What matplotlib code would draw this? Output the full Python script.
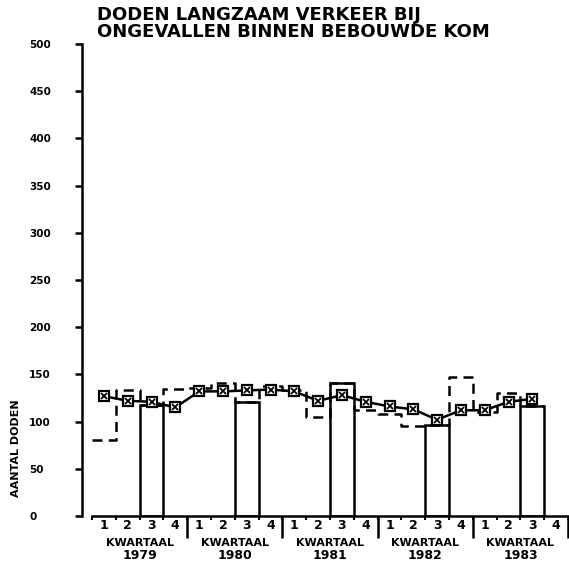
#%% IMPORTS
import numpy as np
import matplotlib
matplotlib.use('Agg')
import matplotlib.pyplot as plt

#%% DATA
years = ['1979', '1980', '1981', '1982', '1983']
quarter_labels = ['1', '2', '3', '4']
# deaths per quarter (last quarter of 1983 not available)
deaths_quarter = [80, 133, 118, 135,
                  136, 141, 121, 138,
                  133, 105, 141, 112,
                  108, 95, 96, 147,
                  110, 130, 117, np.nan]
# smoothed line (boxes with a cross)
deaths_smooth = [127, 122, 121, 115,
                 132, 132, 133, 134,
                 132, 122, 128, 121,
                 116, 113, 102, 112,
                 112, 121, 124, np.nan]
y_ticks = [0, 50, 100, 150, 200, 250, 300, 350, 400, 450, 500]

title_lines = ['DODEN LANGZAAM VERKEER BIJ',
               'ONGEVALLEN BINNEN BEBOUWDE KOM']
y_label = 'AANTAL DODEN'
x_group_label = 'KWARTAAL'

#%% PLOT
plt.rcParams['font.family'] = ['DejaVu Sans']
plt.rcParams['font.weight'] = 'bold'

W = 569.0
fig = plt.figure(figsize=(5.69, 5.69), dpi=100)
ax = fig.add_axes([82 / W, 53 / W, 487 / W, 472 / W])

n_q = len(deaths_quarter)
px_per_q = 476.0 / 20
ax.set_xlim(-10 / px_per_q, 477 / px_per_q)
ax.set_ylim(0, 500)

lw = 1.8
q_vals = np.array(deaths_quarter, dtype=float)
edges = np.arange(n_q + 1)
centers = np.arange(n_q) + 0.5

# dashed step line for all quarters
ax.step(edges, np.append(q_vals, q_vals[-1]), where='post', color='black',
        lw=lw, linestyle=(0, (4, 2.5)), zorder=2)

# third quarter drawn as solid open bars
q3 = np.arange(2, n_q, 4)
ax.bar(centers[q3], q_vals[q3], width=1.0, fill=False, edgecolor='black',
       linewidth=lw, zorder=3)

# smoothed line with boxed-cross markers
ax.plot(centers, deaths_smooth, color='black', lw=lw, marker='s',
        markersize=7, markerfacecolor='white', markeredgecolor='black',
        markeredgewidth=1.6, zorder=4)
ax.plot(centers, deaths_smooth, linestyle='none', marker='x', markersize=5,
        markeredgecolor='black', markeredgewidth=1.3, zorder=5)

# axes styling
for side in ['top', 'right']:
    ax.spines[side].set_visible(False)
ax.spines['left'].set_bounds(0, 500)
ax.spines['bottom'].set_bounds(0, 20)
ax.spines['left'].set_linewidth(lw)
ax.spines['bottom'].set_linewidth(lw)

ax.set_yticks(y_ticks)
ax.set_yticklabels([str(v) for v in y_ticks])
ax.tick_params(axis='y', direction='out', length=5, width=lw, pad=33,
               labelsize=7.5)
for lab in ax.get_yticklabels():
    lab.set_horizontalalignment('left')

ax.set_xticks(centers)
ax.set_xticklabels(quarter_labels * len(years))
ax.set_xticks(edges, minor=True)
ax.tick_params(axis='x', which='major', length=0, pad=2, labelsize=9)
ax.tick_params(axis='x', which='minor', direction='out', length=3, width=1.5)

# long ticks between the years
ax.vlines(np.arange(4, n_q + 1, 4), -0.047, 0, color='black', lw=lw,
          transform=ax.get_xaxis_transform(), clip_on=False)

for i, yr in enumerate(years):
    xc = 4 * i + 2
    ax.text(xc, -0.057, x_group_label, transform=ax.get_xaxis_transform(),
            ha='center', va='center', fontsize=8, fontweight='bold')
    ax.text(xc, -0.083, yr, transform=ax.get_xaxis_transform(),
            ha='center', va='center', fontsize=9, fontweight='bold')

fig.text(16 / W, 1 - 448 / W, y_label, rotation=90, ha='center',
         va='center', fontsize=8, fontweight='bold')

fig.text(97 / W, 1 - 6 / W, '\n'.join(title_lines), ha='left', va='top',
         fontsize=13, fontweight='bold', linespacing=0.93)

fig.savefig('out.png', dpi=100)
plt.close(fig)
